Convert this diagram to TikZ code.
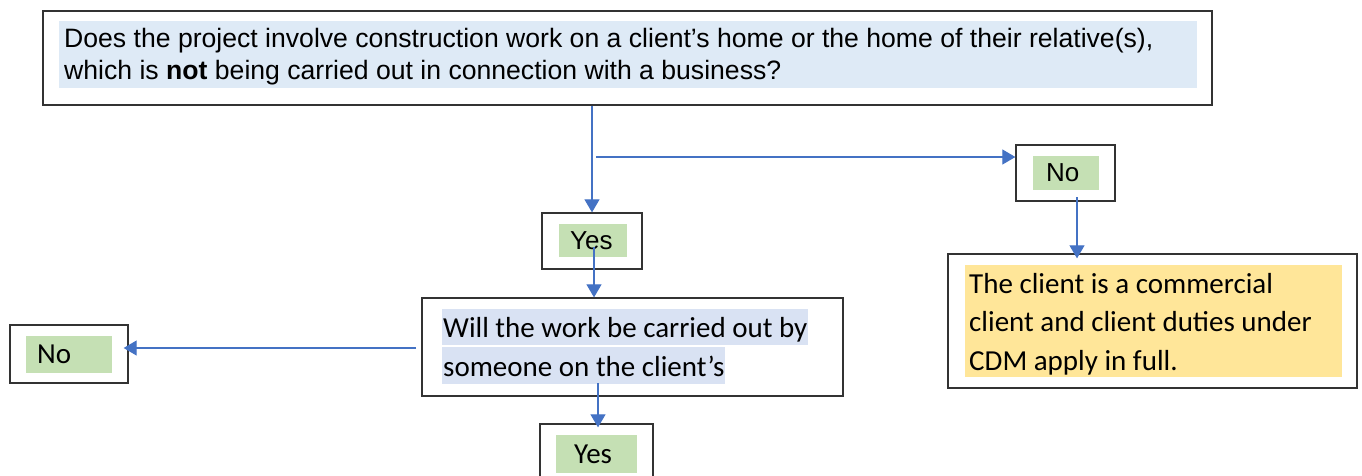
\documentclass[tikz,border=0pt]{standalone}
\usepackage{fontspec}
\usepackage{xcolor}
\usetikzlibrary{arrows.meta}
\setmainfont{Liberation Sans}
\newfontfamily\calibri{Carlito}
\definecolor{qblue}{HTML}{DEEAF6}
\definecolor{wblue}{HTML}{D9E2F3}
\definecolor{tgreen}{HTML}{C5E0B4}
\definecolor{tyellow}{HTML}{FFE699}
\definecolor{flowblue}{HTML}{4472C4}

\begin{document}
\begin{tikzpicture}[x=1pt,y=-1pt]
    \tikzstyle{box}=[rectangle,draw=black!80,line width=1.3pt,inner sep=0pt]
    \tikzstyle{hl}=[rectangle,inner sep=0pt]
    \tikzstyle{arial}=[font=\fontsize{26.6}{32}\selectfont,inner sep=0pt]
    \tikzstyle{arialtag}=[font=\fontsize{26}{30}\selectfont,inner sep=0pt]
    \tikzstyle{calib}=[font=\calibri\fontsize{29}{38.5}\selectfont,inner sep=0pt]
    \tikzstyle{flow}=[draw=flowblue,line width=1.1pt,-{Triangle[width=15pt,length=13pt]}]

    \useasboundingbox (0,0) rectangle (1362,475);
    \clip (0,0) rectangle (1362,475);

    % Boxes
    \node [box,minimum width=1169pt,minimum height=94pt]  (qbox)    at (627.5,58) {};
    \node [box,minimum width=100pt,minimum height=56pt]   (yes1box) at (592,241) {};
    \node [box,minimum width=99pt,minimum height=56pt]    (no1box)  at (1065.5,173) {};
    \node [box,minimum width=421pt,minimum height=98pt]   (willbox) at (632.5,347) {};
    \node [box,minimum width=409pt,minimum height=134pt]  (cdmbox)  at (1152.5,321) {};
    \node [box,minimum width=118pt,minimum height=58pt]   (no2box)  at (69,354) {};
    \node [box,minimum width=113pt,minimum height=58pt]   (yes2box) at (596.5,453) {};

    % Question (base = last line)
    \node [hl,fill=qblue,minimum width=1138pt,minimum height=67pt] (qfill) at (628,54.5) {};
    \node [arial,align=left,anchor=base west] (qtext) at (64,79)
        {Does the project involve construction work on a client’s home or the home of their relative(s),\\
         which is \textbf{not} being carried out in connection with a business?};

    % Second question
    \node [calib,fill=wblue,text height=28pt,text depth=8pt,inner xsep=1pt,anchor=base west] (will1) at (442,337) {Will the work be carried out by};
    \node [calib,fill=wblue,text height=29pt,text depth=8pt,inner xsep=1pt,anchor=base west] (will2) at (442,376) {someone on the client’s};

    % Commercial client
    \node [hl,fill=tyellow,minimum width=377pt,minimum height=112pt] (cdmfill) at (1153.5,321) {};
    \node [calib,align=left,anchor=base west] (cdmtext) at (969,370)
        {The client is a commercial\\client and client duties under\\CDM apply in full.};

    % Yes / No
    \node [hl,fill=tgreen,minimum width=68pt,minimum height=33pt] (yes1fill) at (593,240.5) {};
    \node [arialtag,anchor=base west] (yes1) at (570,249) {Yes};
    \node [hl,fill=tgreen,minimum width=66pt,minimum height=34pt] (no1fill) at (1066,173) {};
    \node [arialtag,anchor=base west] (no1) at (1046,181) {No};
    \node [hl,fill=tgreen,minimum width=86pt,minimum height=37pt] (no2fill) at (69,354.5) {};
    \node [calib,anchor=base west] (no2) at (37,363) {No};
    \node [hl,fill=tgreen,minimum width=81pt,minimum height=38pt] (yes2fill) at (596.5,454) {};
    \node [calib,anchor=base west] (yes2) at (574,463) {Yes};

    % Connectors
    \coordinate (split) at (596,157);
    \coordinate (yesmid) at (594,247);
    \coordinate (nomid) at (1077,197);
    \coordinate (willleft) at (416,348);
    \coordinate (willmid) at (598,383);

    \draw [flow] (qbox.south -| yes1box.north) -- (yes1box.north);
    \draw [flow] (split) -- (split -| no1box.west);
    \draw [flow] (yesmid) -- (yesmid |- willbox.north);
    \draw [flow,shorten >=-5pt] (nomid) -- (nomid |- cdmbox.north);
    \draw [flow,shorten >=-5pt] (willleft) -- (willleft -| no2box.east);
    \draw [flow,shorten >=-4pt] (willmid) -- (willmid |- yes2box.north);
\end{tikzpicture}
\end{document}
